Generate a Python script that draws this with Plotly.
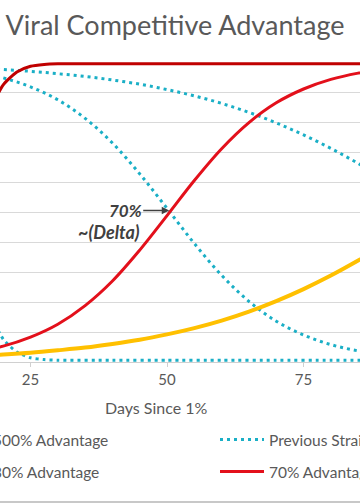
import plotly.graph_objects as go

days = [15, 20, 25, 30, 35, 40, 45, 50, 55, 60, 65, 70, 75, 80, 85, 90]
adv30 = [2.0, 2.5, 3.1, 3.9, 4.8, 6.0, 7.4, 9.2, 11.3, 13.8, 16.8, 20.3, 24.3, 28.8, 33.8, 39.1]
prev30 = [98.0, 97.5, 96.9, 96.1, 95.2, 94.0, 92.6, 90.8, 88.7, 86.2, 83.2, 79.7, 75.7, 71.2, 66.2, 60.9]
adv70 = [3.4, 5.3, 8.3, 12.6, 18.8, 27.0, 37.3, 48.8, 60.5, 71.1, 79.8, 86.4, 91.0, 94.2, 96.3, 97.7]
prev70 = [96.6, 94.7, 91.7, 87.4, 81.2, 73.0, 62.7, 51.2, 39.5, 28.9, 20.2, 13.6, 9.0, 5.8, 3.7, 2.3]

days_fast = [15, 17.5, 20, 22.5, 25, 27.5, 30, 40, 50, 60, 70, 80, 90]
adv500 = [67.4, 83.4, 92.4, 96.7, 98.6, 99.2, 99.4, 99.4, 99.4, 99.4, 99.4, 99.4, 99.4]
prev500 = [32.6, 16.6, 7.6, 3.3, 1.4, 0.8, 0.6, 0.6, 0.6, 0.6, 0.6, 0.6, 0.6]

x_ticks = [25, 50, 75]

TEAL = "#1AAFC6"
DOT = "3px,4px"
FONT = "Lato"
GRAY = "#595959"

fig = go.Figure()
fig.add_trace(go.Scatter(x=days_fast, y=prev500, mode="lines", showlegend=False,
                         line=dict(color=TEAL, width=3, dash=DOT, shape="spline", smoothing=0.6)))
fig.add_trace(go.Scatter(x=days, y=prev30, mode="lines", showlegend=False,
                         line=dict(color=TEAL, width=3, dash=DOT, shape="spline")))
fig.add_trace(go.Scatter(x=days, y=prev70, mode="lines", name="Previous Strain", legend="legend3",
                         line=dict(color=TEAL, width=3, dash=DOT, shape="spline")))
fig.add_trace(go.Scatter(x=days, y=adv30, mode="lines", name="30% Advantage", legend="legend2",
                         line=dict(color="#FFC000", width=4, shape="spline")))
fig.add_trace(go.Scatter(x=days_fast, y=adv500, mode="lines", name="500% Advantage", legend="legend",
                         line=dict(color="#C00000", width=3, shape="spline", smoothing=0.6)))
fig.add_trace(go.Scatter(x=days, y=adv70, mode="lines", name="70% Advantage", legend="legend4",
                         line=dict(color="#E3101B", width=3, shape="spline")))

leg_common = dict(font=dict(family=FONT, size=15.5, color=GRAY), itemwidth=44,
                  bgcolor="rgba(0,0,0,0)", xanchor="left", yanchor="middle", orientation="v")
def ly(px):
    return (362 - px) / 300.0

fig.update_layout(
    width=360, height=504,
    margin=dict(l=0, r=0, t=62, b=142, autoexpand=False),
    paper_bgcolor="white", plot_bgcolor="white",
    font=dict(family=FONT, color=GRAY),
    title=dict(text="Viral Competitive Advantage", x=175 / 360, xanchor="center",
               y=1 - 26 / 504, yanchor="middle", font=dict(family=FONT, size=27, color=GRAY)),
    xaxis=dict(range=[19.41, 85.34], tickvals=x_ticks, ticks="outside", ticklen=4,
               tickcolor="#D0D0D0", showgrid=False, showline=True, linecolor="#D0D0D0",
               linewidth=1, zeroline=False, automargin=False,
               tickfont=dict(family=FONT, size=15, color=GRAY)),
    yaxis=dict(range=[0, 100], dtick=10, showgrid=True, gridcolor="#D9D9D9", gridwidth=1,
               showticklabels=False, zeroline=False, fixedrange=True, automargin=False),
    legend=dict(x=(-7 - 54) / 360, y=ly(440), **leg_common),
    legend2=dict(x=(-7 - 54) / 360, y=ly(472), **leg_common),
    legend3=dict(x=(215) / 360, y=ly(440), **leg_common),
    legend4=dict(x=(215) / 360, y=ly(472), **leg_common),
    showlegend=True,
)

fig.add_annotation(x=50.4, y=50.5, xref="x", yref="y", text="<b><i>70%</i></b>",
                   showarrow=True, arrowhead=2, arrowsize=1, arrowwidth=1.5, arrowcolor="#404040",
                   ax=-44, ay=0, font=dict(family=FONT, size=17, color="#404040"))
fig.add_annotation(x=45.4, y=43.3, xref="x", yref="y", text="<b><i>~(Delta)</i></b>",
                   showarrow=False, xanchor="right", yanchor="middle",
                   font=dict(family=FONT, size=18, color="#404040"))
fig.add_annotation(x=156 / 360, y=ly(407), xref="paper", yref="paper", text="Days Since 1%",
                   showarrow=False, xanchor="center", yanchor="middle",
                   font=dict(family=FONT, size=16, color=GRAY))
fig.add_shape(type="line", xref="paper", yref="paper", x0=0, x1=1, y0=ly(502), y1=ly(502),
              line=dict(color="#C8C8C8", width=2))

fig.write_html("out.html", config={"displayModeBar": False},
               post_script="document.body.style.margin='0';")
